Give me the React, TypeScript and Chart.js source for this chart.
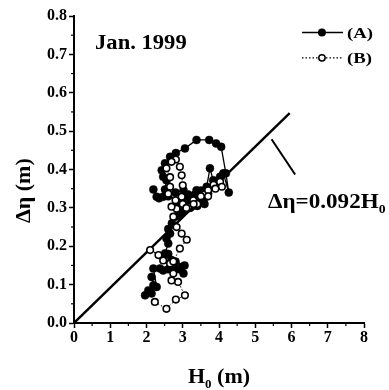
import React, { useEffect, useRef } from 'react';
import { Chart, registerables } from 'chart.js';

Chart.register(...registerables);

// Axis ranges / ticks
const xMin = 0;
const xMax = 8;
const yMin = 0;
const yMax = 0.8;
const xMinorTicks = [0.5, 1.5, 2.5, 3.5, 4.5, 5.5, 6.5, 7.5];
const yMinorTicks = [0.05, 0.15, 0.25, 0.35, 0.45, 0.55, 0.65, 0.75];

// Series (A): filled circles, solid line
const aH = [1.96, 2.05, 2.14, 2.19, 2.14, 2.28, 2.19, 2.37, 2.46, 2.6, 2.74, 2.9, 2.97, 3.02, 3.05, 2.8, 2.69, 2.6, 2.51, 2.6, 2.55, 2.65, 2.6, 2.7, 2.79, 2.83, 2.95, 3.02, 3.11, 3.24, 3.3, 3.35, 3.42, 3.5, 3.55, 3.62, 3.47, 3.57, 3.66, 3.7, 3.66, 3.75, 3.84, 3.95, 4.03, 4.12, 4.27, 4.19, 4.06, 3.92, 3.73, 3.38, 3.06, 2.81, 2.65, 2.51, 2.42, 2.46, 2.55, 2.51, 2.46, 2.28, 2.19, 2.35, 2.6, 2.8, 3.02, 3.15, 3.38, 3.5, 3.6, 3.45, 3.3, 3.4, 3.2, 3.1, 3.0, 2.9, 2.85];
const aEta = [0.072, 0.085, 0.077, 0.098, 0.12, 0.094, 0.142, 0.142, 0.137, 0.14, 0.146, 0.14, 0.146, 0.129, 0.15, 0.16, 0.164, 0.18, 0.181, 0.207, 0.22, 0.233, 0.245, 0.26, 0.277, 0.303, 0.31, 0.33, 0.32, 0.303, 0.32, 0.335, 0.31, 0.345, 0.315, 0.34, 0.329, 0.32, 0.33, 0.337, 0.355, 0.403, 0.372, 0.37, 0.381, 0.39, 0.34, 0.39, 0.459, 0.468, 0.477, 0.477, 0.455, 0.443, 0.433, 0.416, 0.398, 0.381, 0.372, 0.348, 0.329, 0.329, 0.348, 0.325, 0.33, 0.34, 0.346, 0.335, 0.346, 0.34, 0.31, 0.325, 0.315, 0.305, 0.3, 0.31, 0.29, 0.28, 0.3];

// Series (B): open circles, dotted line
const bH = [2.23, 2.55, 2.81, 3.06, 2.87, 2.69, 2.74, 2.65, 2.46, 2.33, 2.1, 2.74, 2.92, 3.11, 2.97, 2.83, 2.74, 2.83, 2.69, 2.97, 3.0, 2.97, 2.92, 2.81, 2.69, 2.55, 2.65, 2.65, 2.6, 2.8, 3.0, 3.15, 3.29, 3.4, 3.47, 3.6, 3.7, 3.85, 4.03, 4.08, 3.9, 3.7, 3.5, 3.3, 3.1];
const bEta = [0.055, 0.037, 0.061, 0.072, 0.107, 0.111, 0.129, 0.155, 0.163, 0.177, 0.19, 0.16, 0.194, 0.217, 0.233, 0.25, 0.277, 0.298, 0.303, 0.329, 0.359, 0.385, 0.407, 0.426, 0.42, 0.403, 0.38, 0.355, 0.337, 0.32, 0.31, 0.303, 0.32, 0.31, 0.329, 0.335, 0.346, 0.36, 0.368, 0.355, 0.35, 0.33, 0.33, 0.31, 0.3];

// Fit line  Δη = 0.092 H0
const fitH = [0, 5.95];
const fitEta = [0, 0.547];

// Annotation pointer
const ptrH = [5.45, 6.1];
const ptrEta = [0.479, 0.387];

const FONT = '"Liberation Serif", "Times New Roman", serif';

function toPts(xs: number[], ys: number[]) {
  return xs.map((x, i) => ({ x, y: ys[i] }));
}

function drawText(
  ctx: CanvasRenderingContext2D,
  s: string,
  px: number,
  py: number,
  size: number,
  sx = 1,
  align: CanvasTextAlign = 'left'
) {
  ctx.save();
  ctx.translate(px, py);
  ctx.scale(sx, 1);
  ctx.font = `bold ${size}px ${FONT}`;
  ctx.textAlign = align;
  ctx.textBaseline = 'alphabetic';
  ctx.fillStyle = '#000';
  ctx.fillText(s, 0, 0);
  const w = ctx.measureText(s).width * sx;
  ctx.restore();
  return w;
}

const overlay = {
  id: 'overlay',
  afterDraw(chart: any) {
    const { ctx, scales } = chart;
    const x = scales.x;
    const y = scales.y;
    ctx.save();
    ctx.strokeStyle = '#000';
    ctx.lineWidth = 1.2;
    // minor ticks
    xMinorTicks.forEach((v) => {
      const px = x.getPixelForValue(v);
      ctx.beginPath();
      ctx.moveTo(px, y.bottom);
      ctx.lineTo(px, y.bottom + 3);
      ctx.stroke();
    });
    yMinorTicks.forEach((v) => {
      const py = y.getPixelForValue(v);
      ctx.beginPath();
      ctx.moveTo(x.left, py);
      ctx.lineTo(x.left - 3, py);
      ctx.stroke();
    });

    // "Jan. 1999"
    drawText(ctx, 'Jan. 1999', x.getPixelForValue(0.58), y.getPixelForValue(0.715), 20, 1.13);

    // Fit annotation
    const ax = x.getPixelForValue(5.35);
    const ay = y.getPixelForValue(0.3);
    const w = drawText(ctx, 'Δη=0.092H', ax, ay, 22, 1.05);
    drawText(ctx, '0', ax + w, ay + 5, 13, 1.05);

    // Legend
    const lx0 = x.getPixelForValue(6.29);
    const lx1 = x.getPixelForValue(7.42);
    const lxm = x.getPixelForValue(6.84);
    const ltx = x.getPixelForValue(7.53);
    const lyA = y.getPixelForValue(0.757);
    const lyB = y.getPixelForValue(0.691);
    ctx.lineWidth = 1.6;
    ctx.beginPath();
    ctx.moveTo(lx0, lyA);
    ctx.lineTo(lx1, lyA);
    ctx.stroke();
    ctx.beginPath();
    ctx.arc(lxm, lyA, 4, 0, Math.PI * 2);
    ctx.fillStyle = '#000';
    ctx.fill();
    drawText(ctx, '(A)', ltx, lyA + 5, 15, 1.25);

    ctx.setLineDash([1.5, 2]);
    ctx.lineWidth = 1.2;
    ctx.beginPath();
    ctx.moveTo(lx0, lyB);
    ctx.lineTo(lxm - 4, lyB);
    ctx.moveTo(lxm + 4, lyB);
    ctx.lineTo(lx1, lyB);
    ctx.stroke();
    ctx.setLineDash([]);
    ctx.lineWidth = 1.5;
    ctx.beginPath();
    ctx.arc(lxm, lyB, 3.2, 0, Math.PI * 2);
    ctx.fillStyle = '#fff';
    ctx.fill();
    ctx.stroke();
    drawText(ctx, '(B)', ltx, lyB + 5, 15, 1.25);

    // X axis title: H0 (m)
    const cx = x.getPixelForValue(4.0);
    const by = chart.height - 7;
    ctx.font = `bold 22px ${FONT}`;
    const wH = ctx.measureText('H').width;
    ctx.font = `bold 13px ${FONT}`;
    const w0 = ctx.measureText('0').width;
    ctx.font = `bold 22px ${FONT}`;
    const wM = ctx.measureText(' (m)').width;
    const total = wH + w0 + wM;
    const sx0 = cx - total / 2;
    drawText(ctx, 'H', sx0, by, 22);
    drawText(ctx, '0', sx0 + wH, by + 5, 13);
    drawText(ctx, ' (m)', sx0 + wH + w0, by, 22);

    // Y axis title: Δη (m)
    ctx.save();
    ctx.translate(30, y.getPixelForValue(0.345));
    ctx.rotate(-Math.PI / 2);
    drawText(ctx, 'Δη (m)', 0, 0, 22, 1, 'center');
    ctx.restore();

    ctx.restore();
  },
};

export default function App() {
  const ref = useRef<HTMLCanvasElement | null>(null);

  useEffect(() => {
    document.body.style.margin = '0';
    const canvas = ref.current;
    if (!canvas) return;
    const chart = new Chart(canvas, {
      type: 'scatter',
      data: {
        datasets: [
          {
            label: '(B)',
            data: toPts(bH, bEta),
            showLine: true,
            borderColor: '#000',
            borderWidth: 1,
            borderDash: [1.5, 2],
            pointRadius: 3.3,
            pointBackgroundColor: '#fff',
            pointBorderColor: '#000',
            pointBorderWidth: 1.6,
          },
          {
            label: '(A)',
            data: toPts(aH, aEta),
            showLine: true,
            borderColor: '#000',
            borderWidth: 1.3,
            pointRadius: 4,
            pointBackgroundColor: '#000',
            pointBorderColor: '#000',
            pointBorderWidth: 0.5,
          },
          {
            label: 'fit',
            data: toPts(fitH, fitEta),
            showLine: true,
            borderColor: '#000',
            borderWidth: 2.4,
            pointRadius: 0,
          },
          {
            label: 'pointer',
            data: toPts(ptrH, ptrEta),
            showLine: true,
            borderColor: '#000',
            borderWidth: 2,
            pointRadius: 0,
          },
        ],
      },
      options: {
        responsive: false,
        animation: false,
        layout: { padding: { left: 0, right: 25, top: 16, bottom: 0 } },
        plugins: {
          legend: { display: false },
          tooltip: { enabled: false },
        },
        scales: {
          x: {
            type: 'linear',
            min: xMin,
            max: xMax,
            afterFit: (s: any) => {
              s.height = 67;
            },
            grid: {
              drawOnChartArea: false,
              drawTicks: true,
              tickLength: 5,
              tickWidth: 1.5,
              tickColor: '#000',
              color: '#000',
            },
            border: { display: true, color: '#000', width: 2 },
            ticks: {
              stepSize: 1,
              padding: 0,
              color: '#000',
              maxRotation: 0,
              font: { family: FONT, size: 16, weight: 'bold' },
              callback: (v: any) => String(Math.round(Number(v))),
            },
          },
          y: {
            type: 'linear',
            min: yMin,
            max: yMax,
            afterFit: (s: any) => {
              s.width = 74;
            },
            grid: {
              drawOnChartArea: false,
              drawTicks: true,
              tickLength: 5,
              tickWidth: 1.5,
              tickColor: '#000',
              color: '#000',
            },
            border: { display: true, color: '#000', width: 2 },
            ticks: {
              stepSize: 0.1,
              padding: 2,
              color: '#000',
              font: { family: FONT, size: 16, weight: 'bold' },
              callback: (v: any) => Number(v).toFixed(1),
            },
          },
        },
      },
      plugins: [overlay],
    } as any);
    return () => chart.destroy();
  }, []);

  return (
    <div style={{ width: 389, height: 390 }}>
      <canvas ref={ref} width={389} height={390} style={{ display: 'block' }} />
    </div>
  );
}
